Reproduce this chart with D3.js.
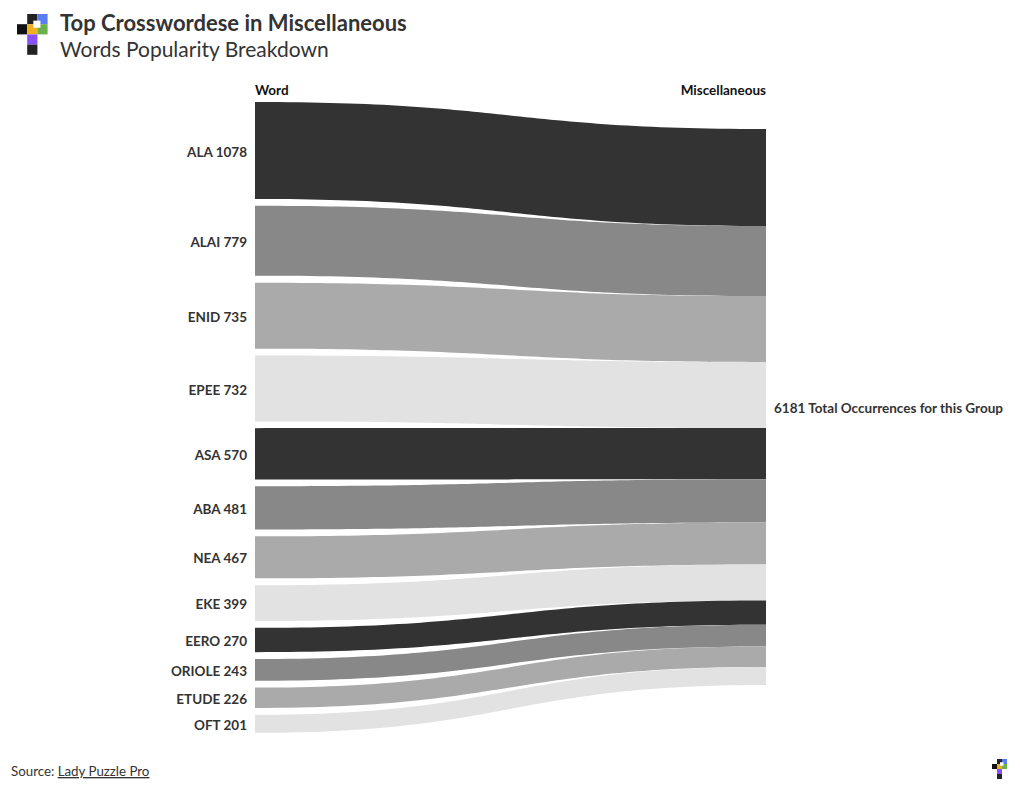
<!DOCTYPE html>
<html>
<head>
<meta charset="utf-8">
<script src="https://cdn.jsdelivr.net/npm/d3@7"></script>
<style>
  html, body { margin: 0; padding: 0; background: #fff; }
  svg { display: block; font-family: "Source Sans Pro", Lato, "Noto Sans", sans-serif; }
</style>
</head>
<body>
<svg id="chart" width="1020" height="794"></svg>
<script>
const words = ["ALA", "ALAI", "ENID", "EPEE", "ASA", "ABA", "NEA", "EKE", "EERO", "ORIOLE", "ETUDE", "OFT"];
const counts = [1078, 779, 735, 732, 570, 481, 467, 399, 270, 243, 226, 201];
const group = "Miscellaneous";
const palette = ["#333333", "#888888", "#aaaaaa", "#e2e2e2"];

const total = d3.sum(counts);
const svg = d3.select("#chart");

// Layout
const xLeft = 255, xRight = 766;
const leftTop = 102, rightTop = 129, gap = 6.8;
const y = d3.scaleLinear().domain([0, total]).range([0, 556]);

let cumL = 0, cumR = 0;
const links = words.map((w, i) => {
  const h = y(counts[i]);
  const l0 = leftTop + y(cumL) + i * gap;
  const r0 = rightTop + y(cumR);
  cumL += counts[i]; cumR += counts[i];
  return { word: w, value: counts[i], i, l0, l1: l0 + h, r0, r1: r0 + h };
});

const xm = (xLeft + xRight) / 2;
function bandPath(d) {
  return `M${xLeft},${d.l0} C${xm},${d.l0} ${xm},${d.r0} ${xRight},${d.r0}` +
         ` L${xRight},${d.r1} C${xm},${d.r1} ${xm},${d.l1} ${xLeft},${d.l1} Z`;
}

svg.append("g").selectAll("path").data(links).join("path")
  .attr("d", bandPath)
  .attr("fill", d => palette[d.i % palette.length]);

const fs = 13.5;
// Left labels
svg.append("g").selectAll("text").data(links).join("text")
  .attr("x", xLeft - 8)
  .attr("y", d => (d.l0 + d.l1) / 2)
  .attr("dy", "0.45em")
  .attr("text-anchor", "end")
  .attr("font-size", fs)
  .attr("font-weight", 700)
  .attr("fill", "#333")
  .text(d => `${d.word} ${d.value}`);

// Column headers
svg.append("text").attr("x", xLeft).attr("y", 95).attr("font-size", fs).attr("font-weight", 700)
  .attr("fill", "#111").text("Word");
svg.append("text").attr("x", xRight).attr("y", 95).attr("font-size", fs).attr("font-weight", 700)
  .attr("fill", "#111").attr("text-anchor", "end").text(group);

// Right total label
svg.append("text").attr("x", xRight + 8).attr("y", rightTop + y(total) / 2)
  .attr("dy", "0.45em").attr("font-size", fs).attr("font-weight", 700).attr("fill", "#333")
  .text(`${total} Total Occurrences for this Group`);

// Title
svg.append("text").attr("x", 60).attr("y", 31).attr("font-size", 22).attr("font-weight", 700)
  .attr("fill", "#333").text("Top Crosswordese in Miscellaneous");
svg.append("text").attr("x", 60).attr("y", 57).attr("font-size", 21).attr("font-weight", 400)
  .attr("fill", "#333").text("Words Popularity Breakdown");

// Logo
function logo(g, s) {
  const cells = [
    [1, 0, "#222222"], [2, 0, "#5b7cf0"],
    [0, 1, "#111111"], [1, 1, "#f0b020"], [2, 1, "#6ab04c"],
    [1, 2, "#8a4fff"], [1, 3, "#222222"]
  ];
  g.selectAll("rect.c").data(cells).join("rect").attr("class", "c")
    .attr("x", d => d[0] * s).attr("y", d => d[1] * s)
    .attr("width", s).attr("height", s).attr("fill", d => d[2]);
  g.append("rect").attr("x", 1.6 * s).attr("y", 0.65 * s).attr("width", 0.7 * s).attr("height", 0.7 * s).attr("fill", "#fff");
}
logo(svg.append("g").attr("transform", "translate(17,14)"), 10.2);
logo(svg.append("g").attr("transform", "translate(992,759)"), 5);

// Footer
const src = svg.append("text").attr("x", 11).attr("y", 776).attr("font-size", 13.3).attr("fill", "#333");
src.append("tspan").text("Source: ");
src.append("tspan").attr("text-decoration", "underline").text("Lady Puzzle Pro");
</script>
</body>
</html>
